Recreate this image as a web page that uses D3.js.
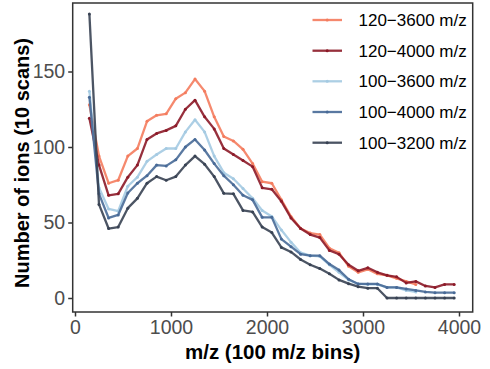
<!DOCTYPE html>
<html>
<head>
<meta charset="utf-8">
<script src="https://cdn.jsdelivr.net/npm/d3@7"></script>
<style>
  html, body { margin: 0; padding: 0; background: #fff; }
  svg { display: block; }
</style>
</head>
<body>
<svg id="chart" width="490" height="369"></svg>
<script>
// ---- data ----
const bins = d3.range(39).map(k => 150 + 100 * k);   // bin centres (m/z)
const seriesNames = ["120\u22123600 m/z", "120\u22124000 m/z", "100\u22123600 m/z", "100\u22124000 m/z", "100\u22123200 m/z"];
const s120_3600 = [128, 94, 76, 78, 94, 99, 117, 121, 122, 132, 136, 145, 137, 120, 107, 104, 98.5, 89, 77, 76,
                   65, 54, 46, 43, 42, 33, 30, 21, 17, 19, 16, 15, 13, 11, 9];
const s120_4000 = [119, 88, 68, 69, 80, 88, 105, 109, 111, 114, 125, 131, 120, 112, 99, 95, 91, 87, 73, 72,
                   64, 53, 46, 42, 40, 31.5, 29, 22, 18, 20, 17, 15, 14, 10, 11, 8, 7, 9, 9];
const s100_3600 = [137, 73, 59, 57.5, 74, 80, 90.5, 95, 99, 99, 110, 118, 110, 94, 83, 79, 72.5, 66, 58, 54,
                   45, 37, 30, 28, 27.5, 22, 17, 12, 9.3, 9, 9, 7, 7, 5, 4];
const s100_4000 = [133, 69, 53, 55, 69.5, 76, 81, 88, 87.5, 91.5, 100, 105, 98, 89, 81, 75, 68, 65, 53.4, 53.4,
                   39, 34, 29, 28, 28, 22.5, 18.5, 12.4, 9.3, 9.3, 9.3, 7, 7, 6, 5, 4, 3.5, 3.5, 3.5];
const s100_3200 = [188, 62, 46, 47, 59.5, 66, 76, 80.4, 78, 80.4, 88, 94, 88.6, 80.4, 69.3, 69, 58, 57, 47, 43.3,
                   33.5, 30.5, 25.5, 22, 19.5, 16, 12, 9.5, 7.5, 6.5, 6.5, 0, 0, 0, 0, 0, 0, 0, 0];
const seriesValues = [s120_3600, s120_4000, s100_3600, s100_4000, s100_3200];
const xTicks = [0, 1000, 2000, 3000, 4000];
const yTicks = [0, 50, 100, 150];
const colors = ["#F47C5E", "#8C1A28", "#A4CAE2", "#486A97", "#384253"];

// ---- layout ----
const svg = d3.select("#chart");
const panel = { left: 72.7, right: 472.7, top: 3, bottom: 312 };
const x = d3.scaleLinear().domain([0, 4000]).range([75, 459]);
const y = d3.scaleLinear().domain([0, 150]).range([298, 71.5]);
const axisColor = "#4d4d4d";

// axes
const xAxis = svg.append("g")
  .attr("transform", `translate(0,${panel.bottom})`)
  .call(d3.axisBottom(x).tickValues(xTicks).tickSize(4.5).tickPadding(4).tickFormat(d3.format("d")));
const yAxis = svg.append("g")
  .attr("transform", `translate(${panel.left},0)`)
  .call(d3.axisLeft(y).tickValues(yTicks).tickSize(4.5).tickPadding(3).tickFormat(d3.format("d")));
[xAxis, yAxis].forEach(g => {
  g.select(".domain").remove();
  g.selectAll(".tick line").attr("stroke", "#333").attr("stroke-width", 1.5);
  g.selectAll(".tick text")
    .attr("fill", axisColor)
    .style("font-family", "Liberation Sans, Arial, sans-serif")
    .style("font-size", "19.5px");
});

// series lines + points
const line = d3.line().x((d, i) => x(bins[i])).y(d => y(d));
seriesValues.forEach((vals, si) => {
  const g = svg.append("g");
  g.append("path")
    .datum(vals)
    .attr("d", line)
    .attr("fill", "none")
    .attr("stroke", colors[si])
    .attr("stroke-width", 2.3)
    .attr("stroke-linejoin", "round")
    .attr("opacity", 0.9);
  g.selectAll("circle").data(vals).join("circle")
    .attr("cx", (d, i) => x(bins[i]))
    .attr("cy", d => y(d))
    .attr("r", 1.5)
    .attr("fill", colors[si]);
});

// panel border
svg.append("rect")
  .attr("x", panel.left).attr("y", panel.top)
  .attr("width", panel.right - panel.left).attr("height", panel.bottom - panel.top)
  .attr("fill", "none").attr("stroke", "#333").attr("stroke-width", 1.5);

// legend
const legY = [20, 50.7, 81.3, 112, 142.7];
seriesNames.forEach((name, i) => {
  const lg = svg.append("g").attr("transform", `translate(0,${legY[i]})`);
  lg.append("line").attr("x1", 312.5).attr("x2", 342).attr("y1", 0).attr("y2", 0)
    .attr("stroke", colors[i]).attr("stroke-width", 2.3).attr("opacity", 0.9);
  lg.append("circle").attr("cx", 327.2).attr("cy", 0).attr("r", 1.5).attr("fill", colors[i]);
  lg.append("text").attr("x", 358.5).attr("y", 0).attr("dy", "0.36em")
    .attr("fill", "#000")
    .style("font-family", "Liberation Sans, Arial, sans-serif")
    .style("font-size", "17px")
    .text(name);
});

// axis titles
svg.append("text")
  .attr("x", 272.7).attr("y", 359)
  .attr("text-anchor", "middle")
  .style("font-family", "Liberation Sans, Arial, sans-serif")
  .style("font-weight", "bold").style("font-size", "20.5px")
  .text("m/z (100 m/z bins)");
svg.append("text")
  .attr("transform", "translate(29,163) rotate(-90)")
  .attr("text-anchor", "middle")
  .style("font-family", "Liberation Sans, Arial, sans-serif")
  .style("font-weight", "bold").style("font-size", "20px")
  .text("Number of ions (10 scans)");
</script>
</body>
</html>
